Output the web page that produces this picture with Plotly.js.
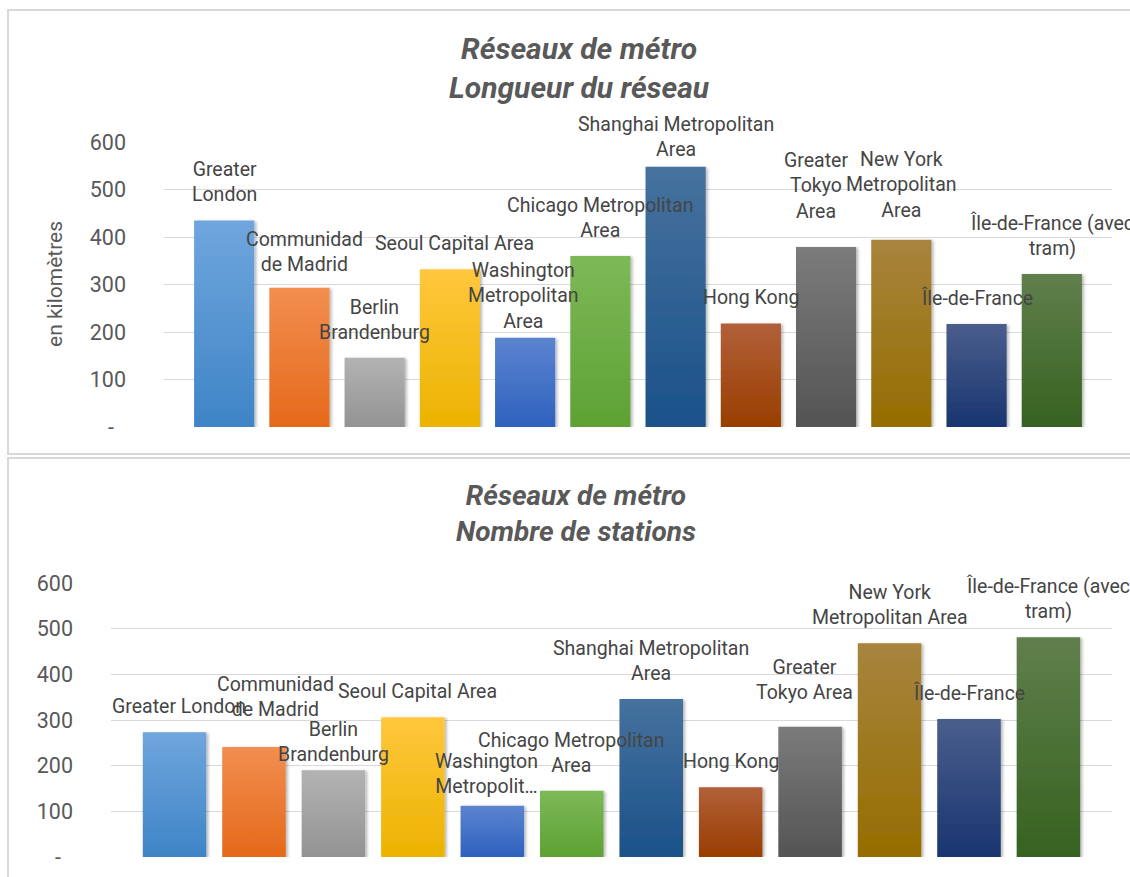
<!DOCTYPE html>
<html>
<head>
<meta charset="utf-8">
<script src="https://cdn.plot.ly/plotly-3.0.1.min.js"></script>
<style>
  html, body { margin: 0; padding: 0; background: #ffffff; }
  #chart { width: 1130px; height: 877px; }
</style>
</head>
<body>
<div id="chart"></div>
<script>
// ---- data ----
const regions = [
  "Greater London", "Communidad de Madrid", "Berlin Brandenburg", "Seoul Capital Area",
  "Washington Metropolitan Area", "Chicago Metropolitan Area", "Shanghai Metropolitan Area",
  "Hong Kong", "Greater Tokyo Area", "New York Metropolitan Area", "Île-de-France",
  "Île-de-France (avec tram)"
];
const lengthKm     = [435, 293, 146, 332, 188, 360, 548, 218, 379, 394, 217, 322];
const stationCount = [273, 241, 190, 306, 112, 145, 346, 153, 285, 468, 302, 481];

const lengthLabels = [
  "Greater<br>London", "Communidad<br>de Madrid", "Berlin<br>Brandenburg", "Seoul Capital Area",
  "Washington<br>Metropolitan<br>Area", "Chicago Metropolitan<br>Area", "Shanghai Metropolitan<br>Area",
  "Hong Kong", "Greater<br>Tokyo<br>Area", "New York<br>Metropolitan<br>Area", "Île-de-France",
  "Île-de-France (avec<br>tram)"
];
const stationLabels = [
  "Greater London", "Communidad<br>de Madrid", "Berlin<br>Brandenburg", "Seoul Capital Area",
  "Washington<br>Metropolit…", "Chicago Metropolitan<br>Area", "Shanghai Metropolitan<br>Area",
  "Hong Kong", "Greater<br>Tokyo Area", "New York<br>Metropolitan Area", "Île-de-France",
  "Île-de-France (avec<br>tram)"
];

const yTickValues = [0, 100, 200, 300, 400, 500, 600];
const yTickText   = ["-\u2007", "100", "200", "300", "400", "500", "600"];

const titleLength   = "Réseaux de métro<br>Longueur du réseau";
const titleStations = "Réseaux de métro<br>Nombre de stations";
const yTitleLength  = "en kilomètres";

// ---- styling ----
const W = 1130, H = 877;
const px = v => v / W;          // horizontal pixel -> paper
const py = v => 1 - v / H;      // vertical pixel -> paper

const gradTop    = ["#6fa6dd", "#f28e50", "#b3b3b3", "#ffc73d", "#5b84d0", "#7db958", "#46729e",
                    "#b2603a", "#7b7b7b", "#a8843e", "#4a5e8c", "#607f4c"];
const gradBottom = ["#3f84c6", "#e5691a", "#939393", "#ecb300", "#2e61bd", "#5ea133", "#1a5189",
                    "#983e00", "#545454", "#956d00", "#193570", "#366220"];

const fontFamily = "Roboto, 'Open Sans', sans-serif";
const labelFont = { family: fontFamily, size: 19.5, color: "#454545" };
const tickFont  = { family: fontFamily, size: 21.5, color: "#595959" };
const titleFontTop    = { family: fontFamily, size: 30, color: "#595959", weight: 700, style: "italic" };
const titleFontBottom = { family: fontFamily, size: 28, color: "#595959", weight: 700, style: "italic" };

// small hand placements for labels that sit off the usual spot, [dx, dy] in px
const lengthNudge  = { 1: [5, -2], 3: [5, 0], 4: [-2, -9], 6: [0, -8], 8: [-10, 10], 9: [0, 4] };
const stationNudge = { 0: [4, 0], 1: [21, 12], 2: [0, -10], 3: [5, 0], 4: [-6, -6], 8: [-6, 9] };
const baseLift = 12;

function labelAnnotations(labels, values, xref, yref, nudge) {
  return labels.map((t, i) => {
    const n = nudge[i] || [0, 0];
    return {
      text: t, x: regions[i], y: values[i], xref: xref, yref: yref,
      xanchor: "center", yanchor: "bottom", showarrow: false, align: "center",
      xshift: n[0], yshift: baseLift + n[1], font: labelFont
    };
  });
}

const traces = [
  { type: "bar", x: regions, y: lengthKm, xaxis: "x", yaxis: "y",
    marker: { color: gradBottom }, hoverinfo: "x+y" },
  { type: "bar", x: regions, y: stationCount, xaxis: "x2", yaxis: "y2",
    marker: { color: gradBottom }, hoverinfo: "x+y" }
];

const yAxisBase = {
  range: [0, 600], tickvals: yTickValues, ticktext: yTickText, tickfont: tickFont,
  showgrid: true, gridcolor: "#d9d9d9", gridwidth: 1, zeroline: false, showline: false,
  ticks: "", ticklabelstandoff: 37, fixedrange: true
};
const xAxisBase = {
  type: "category", range: [-0.8, 11.8], showticklabels: false, showgrid: false,
  zeroline: false, showline: false, ticks: "", fixedrange: true
};

const frameStyle = { color: "#d9d9d9", width: 2 };

const layout = {
  width: W, height: H,
  margin: { l: 0, r: 0, t: 0, b: 0 },
  paper_bgcolor: "#ffffff", plot_bgcolor: "rgba(0,0,0,0)",
  showlegend: false, bargap: 0.2,
  xaxis:  Object.assign({}, xAxisBase, { domain: [px(164), px(1112)], anchor: "y" }),
  yaxis:  Object.assign({}, yAxisBase, { domain: [py(427), py(142)], anchor: "x" }),
  xaxis2: Object.assign({}, xAxisBase, { domain: [px(111), px(1112)], anchor: "y2" }),
  yaxis2: Object.assign({}, yAxisBase, { domain: [py(857), py(583)], anchor: "x2" }),
  shapes: [
    { type: "rect", xref: "paper", yref: "paper", layer: "below",
      x0: px(8), x1: px(1145), y0: py(454), y1: py(10), line: frameStyle },
    { type: "rect", xref: "paper", yref: "paper", layer: "below",
      x0: px(8), x1: px(1145), y0: py(900), y1: py(458), line: frameStyle }
  ],
  annotations: [
    { text: titleLength, xref: "paper", yref: "paper", x: px(579), y: py(68), xanchor: "center",
      yanchor: "middle", showarrow: false, font: titleFontTop },
    { text: titleStations, xref: "paper", yref: "paper", x: px(576), y: py(513), xanchor: "center",
      yanchor: "middle", showarrow: false, font: titleFontBottom },
    { text: yTitleLength, xref: "paper", yref: "paper", x: px(55), y: py(284), xanchor: "center",
      yanchor: "middle", textangle: -90, showarrow: false,
      font: { family: fontFamily, size: 21, color: "#595959" } }
  ]
    .concat(labelAnnotations(lengthLabels, lengthKm, "x", "y", lengthNudge))
    .concat(labelAnnotations(stationLabels, stationCount, "x2", "y2", stationNudge))
};

const NS = "http://www.w3.org/2000/svg";

// vertical light-to-dark fill and a soft shadow for every bar
function shadeBars(gd) {
  const svg = gd.querySelector(".main-svg");
  let defs = svg.querySelector("defs");
  if (!defs) { defs = document.createElementNS(NS, "defs"); svg.insertBefore(defs, svg.firstChild); }

  gradTop.forEach((c, i) => {
    const g = document.createElementNS(NS, "linearGradient");
    g.setAttribute("id", "barGrad" + i);
    g.setAttribute("x1", "0"); g.setAttribute("y1", "0");
    g.setAttribute("x2", "0"); g.setAttribute("y2", "1");
    [[0, c], [1, gradBottom[i]]].forEach(([o, col]) => {
      const s = document.createElementNS(NS, "stop");
      s.setAttribute("offset", o);
      s.setAttribute("stop-color", col);
      g.appendChild(s);
    });
    defs.appendChild(g);
  });

  const f = document.createElementNS(NS, "filter");
  f.setAttribute("id", "barShadow");
  f.setAttribute("x", "-20%"); f.setAttribute("y", "-10%");
  f.setAttribute("width", "150%"); f.setAttribute("height", "130%");
  const ds = document.createElementNS(NS, "feDropShadow");
  ds.setAttribute("dx", "2"); ds.setAttribute("dy", "1");
  ds.setAttribute("stdDeviation", "1.6");
  ds.setAttribute("flood-color", "#000");
  ds.setAttribute("flood-opacity", "0.28");
  f.appendChild(ds);
  defs.appendChild(f);

  gd.querySelectorAll(".barlayer .trace").forEach(tr => {
    tr.querySelectorAll(".point path").forEach((p, i) => {
      p.style.fill = "url(#barGrad" + i + ")";
      p.style.filter = "url(#barShadow)";
    });
  });
}

Plotly.newPlot("chart", traces, layout, { displayModeBar: false, staticPlot: true })
  .then(shadeBars);
</script>
</body>
</html>
